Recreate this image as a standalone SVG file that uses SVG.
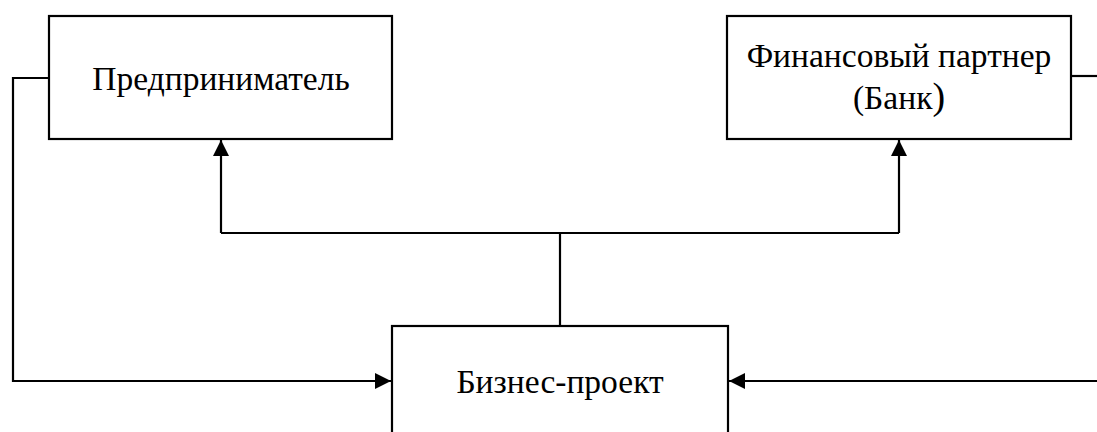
<svg xmlns="http://www.w3.org/2000/svg" width="1097" height="432" viewBox="0 0 1097 432">
<style>
.box{fill:#fff;stroke:#000;stroke-width:2.2}
.ln{fill:none;stroke:#000;stroke-width:2.2}
.t{font-family:"Liberation Serif","Times New Roman",serif;font-size:33.5px;fill:#000;text-anchor:middle}
</style>
<defs>
<marker id="a" viewBox="0 0 16 16" refX="16" refY="8" markerWidth="16" markerHeight="16" markerUnits="userSpaceOnUse" orient="auto">
<path d="M0,0 L16,8 L0,16 Z" fill="#000"/>
</marker>
</defs>
<g id="connectors">
<path class="ln" d="M560,326 V233"/>
<path class="ln" d="M221,233 H899"/>
<path class="ln" d="M221,233 V140" marker-end="url(#a)"/>
<path class="ln" d="M899,233 V140" marker-end="url(#a)"/>
<path class="ln" d="M49,78 H13 V381 H391" marker-end="url(#a)"/>
<path class="ln" d="M1071,76 H1097"/>
<path class="ln" d="M1097,381 H729" marker-end="url(#a)"/>
</g>
<g id="node-entrepreneur">
<rect class="box" x="49" y="16" width="343" height="123"/>
<text class="t" x="221" y="90">Предприниматель</text>
</g>
<g id="node-bank">
<rect class="box" x="727" y="16" width="344" height="123"/>
<text class="t" x="899" y="67">Финансовый партнер</text>
<text class="t" x="899" y="109">(Банк<tspan font-size="38">)</tspan></text>
</g>
<g id="node-project">
<rect class="box" x="392" y="326" width="336" height="120"/>
<text class="t" x="560" y="393">Бизнес-проект</text>
</g>
</svg>
